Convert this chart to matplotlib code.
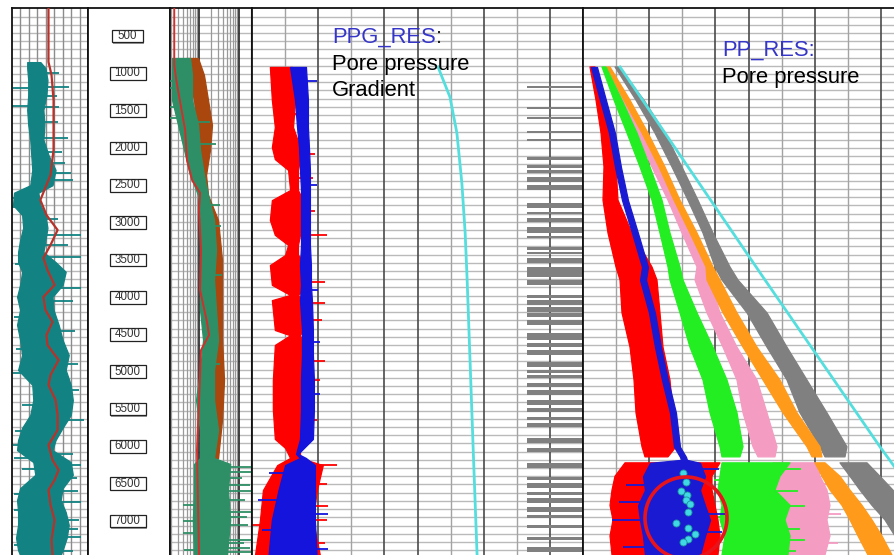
import numpy as np
import matplotlib.pyplot as plt
from matplotlib.patches import Rectangle, Ellipse

plt.rcParams['font.family'] = ['Liberation Sans', 'DejaVu Sans']

# depth window (ft) and depth annotations
top_md, base_md = 125, 7455
depth_marks = [500, 1000, 1500, 2000, 2500, 3000, 3500, 4000, 4500, 5000, 5500, 6000, 6500, 7000]

# ---- track 1: gamma ray (API), band edges + spikes, smoothed trend
gr_depth = [850, 930, 1090, 1290, 1490, 1690, 1890, 2095, 2295, 2500, 2600, 2765, 2900, 3070, 3235, 3395,
            3530, 3660, 3835, 3995, 4170, 4370, 4575, 4775, 4975, 5175, 5380, 5580, 5750, 5915, 6050,
            6210, 6380, 6560, 6720, 6880, 7050, 7225, 7390, 7455]
gr_lo = [30, 30, 32, 32, 30, 32, 36, 38, 40, 36, 4, 2, 20, 22, 16, 12, 12, 20, 16, 10,
         16, 10, 16, 20, 12, 40, 42, 36, 20, 12, 10, 42, 46, 16, 10, 12, 12, 8, 12, 16]
gr_hi = [56, 66, 70, 68, 62, 64, 62, 72, 86, 80, 52, 56, 66, 70, 66, 62, 86, 106, 100, 80,
         82, 92, 100, 112, 106, 116, 120, 116, 100, 86, 80, 116, 120, 100, 96, 106, 112, 108, 100, 96]
gr_spike_depth = [1000, 1183, 1197, 1300, 1438, 1451, 1650, 1867, 2050, 2200, 2336, 2430, 2671, 2791,
                  2950, 3167, 3300, 3461, 3560, 3877, 4050, 4265, 4450, 4700, 4900, 5016, 5250, 5450,
                  5646, 5800, 5981, 6100, 6155, 6249, 6300, 6423, 6600, 6637, 6744, 6850, 6986, 7100,
                  7213, 7321, 7400]
gr_spike_val = [92, 112, 2, 88, 0, 92, 90, 110, 98, 105, 116, 120, 2, 0,
                90, 136, 110, 136, 5, 136, 120, 4, 125, 8, 130, 2, 132, 20,
                142, 6, 2, 120, 4, 136, 20, 128, 130, 4, 136, 4, 132, 130,
                136, 4, 120]
gr_trend_depth = [125, 848, 1023, 1358, 2028, 2363, 2564, 2698, 2899, 3100, 3301, 3475, 3636, 3837,
                  3997, 4172, 4332, 4507, 4641, 4842, 5043, 5177, 5378, 5579, 5780, 5981, 6182,
                  6316, 6450, 6584, 6785, 6986, 7254, 7455]
gr_trend = [72, 72, 78, 82, 82, 76, 64, 56, 68, 90, 76, 62, 70, 84, 62, 66, 80, 68, 70, 92,
            76, 72, 86, 90, 90, 72, 80, 92, 84, 72, 76, 84, 78, 80]

# ---- track 3: resistivity (ohm.m, log)
res_depth = [795, 1023, 1358, 1693, 2028, 2363, 2631, 2966, 3368, 3770, 4172, 4574, 4976, 5378,
             5780, 6155, 6235, 6584, 6986, 7455]
res_deep_lo = [0.211, 0.211, 0.211, 0.299, 0.422, 0.596, 0.944, 1.06, 1.06, 1.06, 1.06, 1.26, 1.06,
               0.841, 1.06, 1.06, 0.750, 0.750, 0.700, 0.750]
res_deep_hi = [0.596, 0.668, 0.668, 0.944, 1.06, 1.33, 1.68, 2.37, 2.66, 2.37, 2.66, 2.99, 2.37,
               2.37, 2.99, 2.37, 6.0, 5.3, 6.0, 5.0]
res_sh_depth = [795, 1023, 1358, 1693, 2028, 2363, 2631, 2966, 3502, 4038, 4574, 5110, 5646, 6155]
res_sh_lo = [0.473, 0.531, 0.750, 0.841, 0.841, 0.944, 1.19, 1.50, 1.68, 1.88, 1.88, 1.88, 1.68, 1.50]
res_sh_hi = [0.944, 1.33, 1.68, 2.11, 1.88, 1.50, 1.68, 2.99, 3.76, 3.76, 3.76, 4.22, 3.76, 2.99]
res_spike_depth = [1100, 1197, 1450, 1599, 1652, 1950, 2765, 3050, 3700, 4900, 6280, 6342, 6420, 6517,
                   6600, 6718, 6785, 6878, 6950, 7000, 7053, 7160, 7254, 7300, 7361, 7388, 7420]
res_spike_val = [0.17, 0.168, 0.19, 0.168, 1.88, 2.6, 3.35, 3.5, 3.8, 3.4, 21, 21, 12, 19,
                 21, 14, 0.398, 21, 16, 0.40, 17, 0.398, 21, 13, 19, 0.42, 21]
res_base_depth = [125, 889, 1090, 1358, 1760, 2162, 2430, 2604, 2832, 3368, 3904, 4332, 4507, 4708,
                  5378, 6048, 6718, 7455]
res_base = [0.24, 0.24, 0.27, 0.33, 0.45, 0.50, 0.67, 1.06, 1.0, 1.12, 1.06, 1.58, 1.78, 1.12,
            1.0, 0.89, 0.94, 1.0]

# ---- track 4: PPG_RES (ppg)
ppg_red_depth = [915, 1360, 1720, 1990, 2150, 2295, 2565, 2700, 2965, 3165, 3300, 3435, 3570, 3835,
                 3970, 4040, 4440, 4510, 4640, 5110, 5510, 5900, 6020, 6155, 6250, 6585, 6985, 7455]
ppg_red_lo = [7.54, 7.60, 7.69, 7.60, 7.69, 8.09, 8.15, 7.60, 7.54, 7.69, 8.09, 8.00, 7.54, 7.60,
              8.15, 7.60, 7.69, 8.15, 7.69, 7.63, 7.63, 7.69, 8.00, 8.15, 7.76, 7.33, 7.24, 7.09]
ppg_red_hi = [8.21, 8.30, 8.24, 8.45, 8.45, 8.39, 8.39, 8.54, 8.54, 8.45, 8.39, 8.39, 8.75, 8.75,
              8.39, 8.54, 8.54, 8.45, 8.60, 8.66, 8.66, 8.60, 8.45, 8.45, 9.14, 8.96, 8.84, 9.05]
ppg_red_spike_depth = [1250, 1550, 2080, 2400, 2850, 3167, 3797, 4078, 4306, 4860, 5110, 5640, 6249,
                       6500, 6800, 6986, 7053, 7300]
ppg_red_spike_val = [8.6, 8.7, 8.9, 8.85, 8.9, 9.27, 9.21, 9.21, 9.11, 9.21, 9.05, 8.96, 9.57,
                     9.27, 9.3, 9.27, 7.0, 9.2]
ppg_blue_depth = [915, 1360, 1720, 1990, 2295, 2565, 2965, 3300, 3570, 3835, 4040, 4440, 4775, 5110,
                  5510, 5900, 6100, 6155, 6250, 6585, 6985, 7455]
ppg_blue_lo = [8.15, 8.30, 8.36, 8.42, 8.45, 8.48, 8.48, 8.48, 8.45, 8.48, 8.45, 8.51, 8.51, 8.48,
               8.48, 8.45, 8.33, 8.45, 8.00, 7.80, 7.60, 7.50]
ppg_blue_hi = [8.63, 8.69, 8.69, 8.72, 8.75, 8.75, 8.75, 8.75, 8.78, 8.78, 8.81, 8.84, 8.84, 8.87,
               8.87, 8.84, 8.39, 8.63, 8.90, 8.90, 8.90, 8.95]
ppg_blue_spike_depth = [1100, 2500, 3900, 4600, 5300, 6350, 6718, 6900, 7120, 7380]
ppg_blue_spike_val = [8.95, 8.95, 9.0, 9.05, 9.05, 7.5, 7.18, 9.3, 7.30, 9.3]
ofg_depth = [915, 1317, 1800, 2470, 3140, 3770, 4882, 6007, 7455]
ofg = [12.62, 12.98, 13.19, 13.34, 13.44, 13.50, 13.59, 13.68, 13.80]
lith_top = [1175, 1455, 1590, 1775, 1885, 2115, 2225, 2295, 2385, 2495, 2735, 2862, 2935, 3055, 3185,
            3325, 3400, 3470, 3595, 3765, 3970, 4038, 4131, 4212, 4306, 4480, 4614, 4708, 4868, 4976,
            5043, 5150, 5244, 5378, 5485, 5605, 5686, 5887, 6021, 6222, 6410, 6490, 6610, 6691, 6811,
            6919, 7053, 7214, 7347]
lith_base = [1195, 1475, 1610, 1795, 1905, 2165, 2270, 2335, 2455, 2565, 2805, 2882, 2995, 3140, 3205,
             3370, 3420, 3545, 3730, 3835, 4010, 4105, 4198, 4265, 4373, 4574, 4667, 4775, 4935, 5016,
             5083, 5203, 5311, 5445, 5538, 5646, 5739, 5954, 6074, 6289, 6450, 6557, 6651, 6758, 6878,
             6959, 7093, 7254, 7414]

# ---- track 5: PP_RES (psi)
nan = np.nan
pp_depth = [915, 1360, 1800, 2255, 2700, 3140, 3595, 3770, 4210, 4670, 5110, 5550, 6005, 6140, 6180,
            6220, 6400, 6585, 6790, 6985, 7200, 7455]
pp_red_lo = [211, 393, 544, 634, 604, 755, 997, 1118, 1178, 1420, 1541, 1601, 1782, 1873, nan,
             1269, 967, 876, 816, 906, 816, 876]
pp_red_hi = [363, 634, 846, 997, 1057, 1480, 2084, 2235, 2326, 2417, 2628, 2719, 2810, 2568, nan,
             4139, 3897, 3897, 3988, 4078, 4139, 4078]
pp_blue_lo = [242, 514, 786, 967, 1179, 1481, 1783, 1723, 1994, 2176, 2387, 2629, 2750, 2931, 2961,
              2024, 1813, 1873, 1662, 1722, 1813, 1873]
pp_blue_hi = [422, 694, 966, 1147, 1359, 1661, 1963, 1903, 2174, 2356, 2567, 2809, 2930, 3111, 3141,
              3535, 3686, 3535, 3686, 3837, 3686, 3535]
pp_green_lo = [574, 937, 1329, 1722, 2084, 2326, 2568, 2628, 2930, 3232, 3625, 3837, 4139, 4199, nan,
               4199, 4139, 4078, 4199, 4139, 4290, 4199]
pp_green_hi = [695, 1178, 1631, 2024, 2387, 2628, 2930, 3021, 3444, 3927, 4350, 4652, 4834, 4743, nan,
               6254, 5951, 5800, 6254, 6102, 6254, 6193]
pp_pink_lo = [665, 1118, 1601, 2084, 2568, 2991, 3444, 3384, 3746, 4229, 4652, 4834, 5136, 5287, nan,
              5740, 5710, 5800, 5891, 5800, 5951, 5891]
pp_pink_hi = [785, 1329, 1843, 2387, 2840, 3293, 3746, 3837, 4139, 4652, 5257, 5559, 5861, 5800, nan,
              7009, 7160, 7371, 7462, 7371, 7462, 7311]
pp_orange_lo = [725, 1239, 1782, 2296, 2749, 3232, 3716, 3746, 4229, 4834, 5438, 6042, 6767, 6918, nan,
                7009, 7220, 7462, 7824, 8066, 8308, 8610]
pp_orange_hi = [816, 1420, 1964, 2477, 2930, 3444, 3927, 4139, 4652, 5257, 5951, 6465, 7160, 7220, nan,
                7311, 7764, 8066, 8429, 8731, 9033, 9335]
pp_gray_lo = [967, 1601, 2175, 2689, 3172, 3625, 3988, 4199, 4954, 5559, 6163, 6556, 7160, 7311, nan,
              7764, 8066, 8368, 8731, 9123, 9425, 9728]
pp_gray_hi = [1088, 1843, 2477, 2991, 3474, 3927, 4441, 4683, 5559, 6163, 6767, 7371, 7975, 7915, nan,
              8580, 8972, 9365, 9728, 10030, 10330, 10634]
pp_blue_spike_depth = [6300, 6520, 6750, 6900, 6990, 7150, 7350]
pp_blue_spike_val = [4100, 1300, 1100, 4350, 876, 4200, 1200]
pp_green_spike_depth = [6300, 6450, 6600, 6800, 6950, 7100, 7250, 7400]
pp_green_spike_val = [6600, 3950, 6500, 6700, 3900, 6550, 6700, 6450]
pp_pink_spike_depth = [6350, 6500, 6900, 7050, 7300]
pp_pink_spike_val = [7500, 7700, 7800, 5500, 7700]
obg_depth = [915, 3730, 6005, 6300]
obg = [1118, 5438, 8972, 9456]
rft_depth = [6356, 6476, 6597, 6651, 6718, 6771, 6878, 7026, 7093, 7173, 7240, 7280]
rft_val = [3021, 3112, 2961, 3142, 3112, 3232, 3172, 2810, 3172, 3384, 3172, 3021]

W, H = 894, 555
fig = plt.figure(figsize=(W / 100, H / 100), dpi=100)
fig.patch.set_facecolor('white')


def track(x0, x1, xlim, log=False):
    ax = fig.add_axes([x0 / W, 0, (x1 - x0) / W, (H - 8) / H])
    if log:
        ax.set_xscale('log')
    ax.set_xlim(*xlim)
    ax.set_ylim(base_md, top_md)
    ax.tick_params(which='both', bottom=False, top=False, left=False, right=False,
                   labelbottom=False, labelleft=False)
    for s in ax.spines.values():
        s.set_linewidth(1.3)
        s.set_color('#111111')
    ax.spines['bottom'].set_visible(False)
    return ax


def depth_grid(ax):
    for d in np.arange(240, base_md, 110):
        ax.axhline(d, color='#bababa', lw=1.0, zorder=0)


def band(ax, d, lo, hi, color, z):
    ax.fill_betweenx(d, lo, hi, facecolor=color, edgecolor=color, lw=0.9, zorder=z)


def spikes(ax, d, lo, hi, sd, sv, color, z, log=False):
    lo = np.asarray(lo, float)
    hi = np.asarray(hi, float)
    mid = np.sqrt(lo * hi) if log else (lo + hi) / 2
    ok = ~np.isnan(mid)
    start = np.interp(sd, np.asarray(d)[ok], mid[ok])
    ax.hlines(sd, start, sv, color=color, lw=1.3, zorder=z)


# track 1 - GR
ax1 = track(12, 88, (0, 150))
depth_grid(ax1)
for i in range(1, 9):
    ax1.axvline(150 * i / 9, color='#8c8c8c', lw=1.0, zorder=0.5)
band(ax1, gr_depth, gr_lo, gr_hi, '#138282', 2)
spikes(ax1, gr_depth, gr_lo, gr_hi, gr_spike_depth, gr_spike_val, '#138282', 2)
ax1.plot(gr_trend, gr_trend_depth, color='#b8322a', lw=1.6, zorder=3)

# depth track
ax2 = track(88, 170, (0, 1))
for m in depth_marks:
    s = str(m)
    w = (16 + 5 * len(s)) / 82
    ax2.add_patch(Rectangle((0.482 - w / 2 + 0.015, m - 85 + 16), w, 170, facecolor='#9a9a9a',
                            edgecolor='none', zorder=1))
    ax2.add_patch(Rectangle((0.482 - w / 2, m - 85), w, 170, facecolor='white',
                            edgecolor='#222222', lw=0.9, zorder=2))
    ax2.text(0.482, m, s, ha='center', va='center', fontsize=8.3, color='#333333', zorder=3)

# track 3 - resistivity
ax3 = track(170, 252, (0.188, 21.1), log=True)
depth_grid(ax3)
for dec in (0.1, 1, 10):
    for k in range(1, 10):
        v = dec * k
        if 0.19 < v < 21:
            ax3.axvline(v, color='#222222' if k == 1 else '#999999', lw=1.2 if k == 1 else 0.9, zorder=0.5)
band(ax3, res_sh_depth, res_sh_lo, res_sh_hi, '#a9470f', 2)
band(ax3, res_depth, res_deep_lo, res_deep_hi, '#2e8f66', 3)
spikes(ax3, res_depth, res_deep_lo, res_deep_hi, res_spike_depth, res_spike_val, '#2e8f66', 3, log=True)
ax3.plot(res_base, res_base_depth, color='#d0302c', lw=1.4, zorder=4)

# track 4 - PPG_RES
ax4 = track(252, 583, (7, 17))
depth_grid(ax4)
for i in range(1, 10):
    dark = i in (2, 4, 5, 7, 9)
    ax4.axvline(7 + i, color='#4a4a4a' if dark else '#a3a3a3', lw=1.2 if dark else 1.0, zorder=0.5)
band(ax4, ppg_red_depth, ppg_red_lo, ppg_red_hi, '#ff0000', 2)
spikes(ax4, ppg_red_depth, ppg_red_lo, ppg_red_hi, ppg_red_spike_depth, ppg_red_spike_val, '#ff0000', 2)
band(ax4, ppg_blue_depth, ppg_blue_lo, ppg_blue_hi, '#1414dc', 3)
spikes(ax4, ppg_blue_depth, ppg_blue_lo, ppg_blue_hi, ppg_blue_spike_depth, ppg_blue_spike_val, '#1414dc', 3)
ax4.plot(ofg, ofg_depth, color='#55dede', lw=2.0, zorder=4)
lith_top_a = np.array(lith_top)
lith_base_a = np.array(lith_base)
ax4.barh((lith_top_a + lith_base_a) / 2, 1.7, left=15.3, height=lith_base_a - lith_top_a,
         color='#808080', zorder=2)

# track 5 - PP_RES (runs past the right edge)
ax5 = track(583, 914, (0, 10000))
depth_grid(ax5)
for i in range(1, 10):
    dark = i in (2, 4, 5, 7, 9)
    ax5.axvline(1000 * i, color='#4a4a4a' if dark else '#a3a3a3', lw=1.2 if dark else 1.0, zorder=0.5)
band(ax5, pp_depth, pp_gray_lo, pp_gray_hi, '#808080', 2)
band(ax5, pp_depth, pp_pink_lo, pp_pink_hi, '#f59cc3', 3)
spikes(ax5, pp_depth, pp_pink_lo, pp_pink_hi, pp_pink_spike_depth, pp_pink_spike_val, '#f59cc3', 3)
band(ax5, pp_depth, pp_orange_lo, pp_orange_hi, '#ff9a1a', 4)
band(ax5, pp_depth, pp_green_lo, pp_green_hi, '#22ee22', 5)
spikes(ax5, pp_depth, pp_green_lo, pp_green_hi, pp_green_spike_depth, pp_green_spike_val, '#22ee22', 5)
band(ax5, pp_depth, pp_red_lo, pp_red_hi, '#ff0000', 6)
band(ax5, pp_depth, pp_blue_lo, pp_blue_hi, '#1a1ad2', 7)
spikes(ax5, pp_depth, pp_blue_lo, pp_blue_hi, pp_blue_spike_depth, pp_blue_spike_val, '#1a1ad2', 7)
ax5.plot(obg, obg_depth, color='#55dede', lw=2.0, zorder=8)
ax5.scatter(rft_val, rft_depth, s=26, c='#3fd8e4', edgecolors='#1c8fa0', linewidths=0.6, zorder=9)
ax5.add_patch(Ellipse((3112, 6959), 2477, 1099, fill=False, ec='#e8141c', lw=2.6, zorder=10))

# titles
blue = '#3535c8'
t = fig.text(332 / W, 1 - 43 / H, 'PPG_RES', color=blue, fontsize=15.8, va='baseline')
ax4.annotate(':', xy=(1, 0), xycoords=t, va='bottom', ha='left', fontsize=15.8, color='#222222')
fig.text(332 / W, 1 - 70 / H, 'Pore pressure', color='black', fontsize=15.8, va='baseline')
fig.text(332 / W, 1 - 96 / H, 'Gradient', color='black', fontsize=15.8, va='baseline')
fig.text(722 / W, 1 - 56 / H, 'PP_RES:', color=blue, fontsize=15.8, va='baseline')
fig.text(722 / W, 1 - 83 / H, 'Pore pressure', color='black', fontsize=15.8, va='baseline')

fig.savefig('out.png', dpi=100, facecolor='white')
